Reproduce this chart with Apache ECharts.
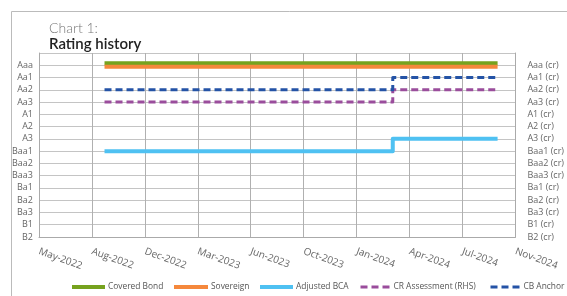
<!DOCTYPE html>
<html>
<head>
<meta charset="utf-8">
<script src="https://cdn.jsdelivr.net/npm/echarts@6/dist/echarts.min.js"></script>
<style>
  html, body { margin: 0; padding: 0; background: #fff; }
  #main { width: 567px; height: 296px; }
</style>
</head>
<body>
<div id="main"></div>
<script>
// rating scale, B2 = 0 ... Aaa = 14
var ratingLabels = ['B2', 'B1', 'Ba3', 'Ba2', 'Ba1', 'Baa3', 'Baa2', 'Baa1', 'A3', 'A2', 'A1', 'Aa3', 'Aa2', 'Aa1', 'Aaa'];
var monthNames = ['Jan', 'Feb', 'Mar', 'Apr', 'May', 'Jun', 'Jul', 'Aug', 'Sep', 'Oct', 'Nov', 'Dec'];

var dates = ['2022-09-16', '2024-03-19', '2024-10-05'];
var coveredBond = [14.16, 14.16, 14.16];
var sovereign = [13.88, 13.88, 13.88];
var adjustedBca = [7, 8, 8];
var crAssessment = [11, 12, 12];
var cbAnchor = [12, 13, 13];

var dayMs = 86400000;
var xMin = Date.UTC(2022, 4, 14);
var xStep = 101 * dayMs;
var xMax = xMin + 9 * xStep;

function toPoints(values) {
    var pts = [];
    for (var i = 0; i < dates.length; i++) {
        pts.push([Date.parse(dates[i] + 'T00:00:00Z'), values[i]]);
    }
    return pts;
}

function lineSeries(name, values, color, width, dashed, axisIdx) {
    return {
        name: name,
        type: 'line',
        yAxisIndex: axisIdx || 0,
        step: 'end',
        symbol: 'none',
        silent: true,
        data: toPoints(values),
        lineStyle: {
            color: color,
            width: width,
            type: dashed ? [7, 4] : 'solid',
            join: 'round'
        },
        itemStyle: { color: color }
    };
}

// one legend per item so each sits where the original puts it
function legendItem(name, left, iconWidth, lineWidth) {
    return {
        data: [name],
        left: left,
        top: 283,
        padding: 0,
        itemWidth: iconWidth,
        itemHeight: 10,
        selectedMode: false,
        itemStyle: { opacity: 0 },
        lineStyle: { width: lineWidth },
        textStyle: { color: '#555', fontSize: 8.4, fontFamily: 'Open Sans', padding: [0, 0, 0, -2] }
    };
}

var chart = echarts.init(document.getElementById('main'));

var yLabelStyle = { color: '#666', fontSize: 9, fontFamily: 'Open Sans' };

var option = {
    animation: false,
    backgroundColor: '#fff',
    graphic: [
        { type: 'rect', left: 9, top: 9, shape: { width: 600, height: 330 }, style: { fill: 'none', stroke: '#bbb', lineWidth: 1 } },
        { type: 'text', left: 49, top: 21, style: { text: 'Chart 1:', fill: '#777', font: '300 14px Lato' } },
        { type: 'text', left: 49, top: 37, style: { text: 'Rating history', fill: '#222', font: '600 15px Lato' } }
    ],
    grid: { left: 39, right: 46, top: 53, bottom: 59 },
    legend: [
        legendItem('Covered Bond', 70, 33, 4),
        legendItem('Sovereign', 172, 34, 4),
        legendItem('Adjusted BCA', 258, 33, 4),
        legendItem('CR Assessment (RHS)', 359, 30, 3),
        legendItem('CB Anchor', 489, 30, 3)
    ],
    xAxis: {
        type: 'value',
        min: xMin,
        max: xMax,
        interval: xStep,
        axisLine: { show: true, lineStyle: { color: '#aaa' } },
        axisTick: { show: false },
        splitLine: { show: true, lineStyle: { color: '#b0b0b0' } },
        axisLabel: {
            rotate: -20,
            margin: 14,
            color: '#666',
            fontSize: 10,
            fontFamily: 'Open Sans',
            formatter: function (v) {
                var d = new Date(v);
                return monthNames[d.getUTCMonth()] + '-' + d.getUTCFullYear();
            }
        }
    },
    yAxis: [
        {
            type: 'value',
            min: 0,
            max: 15,
            interval: 1,
            axisLine: { show: true, lineStyle: { color: '#aaa' } },
            axisTick: { show: false },
            splitLine: { show: true, lineStyle: { color: '#c4c4c4' } },
            axisLabel: Object.assign({
                margin: 6,
                formatter: function (v) { return ratingLabels[v] || ''; }
            }, yLabelStyle)
        },
        {
            type: 'value',
            min: 0,
            max: 15,
            interval: 1,
            position: 'right',
            axisLine: { show: true, lineStyle: { color: '#aaa' } },
            axisTick: { show: false },
            splitLine: { show: false },
            axisLabel: Object.assign({
                margin: 12,
                formatter: function (v) { return ratingLabels[v] ? ratingLabels[v] + ' (cr)' : ''; }
            }, yLabelStyle)
        }
    ],
    series: [
        lineSeries('Covered Bond', coveredBond, '#76a21e', 4, false),
        lineSeries('Sovereign', sovereign, '#f5883c', 4, false),
        lineSeries('Adjusted BCA', adjustedBca, '#4fc1f2', 4, false),
        lineSeries('CR Assessment (RHS)', crAssessment, '#9a4d9c', 3, true, 1),
        lineSeries('CB Anchor', cbAnchor, '#2453a6', 3, true)
    ]
};

chart.setOption(option);
</script>
</body>
</html>
